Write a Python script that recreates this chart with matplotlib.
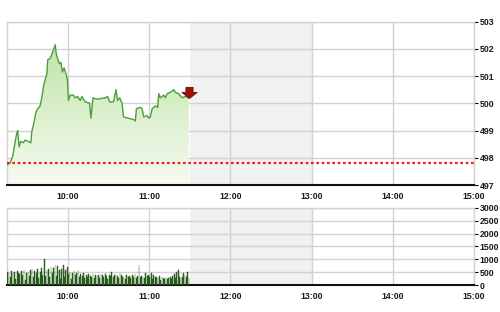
import numpy as np
import matplotlib
matplotlib.use("Agg")
import matplotlib.pyplot as plt
from matplotlib.path import Path
from matplotlib.colors import LinearSegmentedColormap

# Session: 9:15 open, 15:00 close; lunch break 11:30-13:00
OPEN_H = 9.25
CLOSE_H = 15.0
BREAK = (11.5, 13.0)

# Intraday index: minutes after the 9:15 open and index level
price_min = [0.0, 2.2, 4.2, 5.9, 7.2, 7.9, 8.9, 10.1, 12.1, 13.3, 15.8, 17.6, 18.3,
             19.5, 21.3, 22.0, 24.4, 25.7, 26.9, 28.1, 29.4, 30.1, 31.9, 33.1, 34.3,
             35.6, 36.3, 37.3, 38.7, 39.8, 41.0, 42.2, 43.5, 44.7, 45.4, 46.7, 49.1,
             50.4, 52.1, 54.1, 55.3, 57.8, 61.0, 62.0, 63.5, 66.4, 68.9, 72.6, 74.3,
             75.8, 78.7, 80.5, 81.7, 83.2, 85.0, 86.1, 89.9, 93.6, 94.8, 95.6, 98.5,
             99.8, 101.0, 103.5, 104.7, 105.9, 107.2, 109.6, 111.3, 112.1, 113.3,
             115.8, 117.0, 118.3, 120.7, 123.2, 124.4, 126.9, 129.4, 131.8, 134.3]
price_val = [497.75, 497.8, 498.05, 498.55, 498.9, 499.0, 498.4, 498.6, 498.55, 498.65,
             498.6, 498.55, 498.95, 499.2, 499.65, 499.75, 499.9, 500.2, 500.6, 500.85,
             501.05, 501.6, 501.65, 501.8, 501.95, 502.15, 501.85, 501.65, 501.45, 501.5,
             501.15, 501.3, 501.1, 500.85, 500.1, 500.3, 500.3, 500.2, 500.25, 500.1,
             500.25, 500.05, 500.0, 499.45, 500.2, 500.15, 500.17, 500.2, 500.25, 500.05,
             500.05, 500.5, 500.1, 500.2, 500.0, 499.5, 499.45, 499.4, 499.35, 499.8,
             499.85, 499.8, 499.5, 499.55, 499.45, 499.5, 499.8, 499.9, 499.85, 500.35,
             500.2, 500.3, 500.2, 500.35, 500.4, 500.5, 500.4, 500.35, 500.2, 500.25, 500.2]
prev_close = 497.82

# Per-minute volume, 9:15 - 11:30
volume = [520, 480, 300, 560, 450, 500, 250, 530, 470, 420,
          550, 380, 600, 200, 480, 520, 350, 570, 610, 300,
          560, 450, 620, 280, 500, 680, 400, 1010, 350, 580,
          620, 300, 700, 480, 650, 760, 350, 720, 580, 250,
          640, 780, 300, 600, 700, 420, 520, 250, 480, 560,
          380, 450, 600, 300, 420, 350, 480, 280, 400, 330,
          420, 360, 300, 440, 280, 380, 350, 400, 260, 420,
          380, 300, 420, 340, 250, 400, 360, 520, 300, 380,
          420, 350, 280, 460, 380, 300, 360, 250, 400, 320,
          350, 280, 380, 300, 420, 260, 350, 780, 300, 360,
          330, 280, 480, 350, 400, 300, 460, 250, 380, 320,
          300, 260, 350, 200, 320, 280, 240, 300, 220, 260,
          300, 240, 350, 420, 280, 500, 590, 320, 260, 300,
          450, 400, 300, 520, 260]

hour_ticks = [10, 11, 12, 13, 14, 15]
hour_labels = ["10:00", "11:00", "12:00", "13:00", "14:00", "15:00"]
price_ticks = [497, 498, 499, 500, 501, 502, 503]
volume_ticks = [0, 500, 1000, 1500, 2000, 2500, 3000]

plt.rcParams["font.family"] = ["Liberation Sans", "DejaVu Sans"]

t_price = OPEN_H + np.array(price_min) / 60.0
p = np.array(price_val)
t_vol = OPEN_H + (np.arange(len(volume)) + 0.5) / 60.0

fig = plt.figure(figsize=(5.0, 3.12), dpi=100)
ax1 = fig.add_axes([0.014, 0.407, 0.934, 0.524])
ax2 = fig.add_axes([0.014, 0.0865, 0.934, 0.2475])

GRID = "#d2d2d2"


def style_axes(ax, ymin, ymax, yticks):
    ax.set_xlim(OPEN_H, CLOSE_H)
    ax.set_ylim(ymin, ymax)
    ax.axvspan(BREAK[0], BREAK[1], color="#f1f1f1", zorder=0, lw=0)
    ax.set_xticks(hour_ticks)
    ax.set_xticklabels(hour_labels)
    ax.set_yticks(yticks)
    ax.yaxis.tick_right()
    ax.grid(True, color=GRID, lw=1.0, zorder=0.5)
    ax.set_axisbelow(True)
    ax.tick_params(axis="x", length=0, pad=5, labelsize=6.3, colors="black")
    ax.tick_params(axis="y", length=3, width=0.8, pad=1, labelsize=6.3,
                   colors="black", direction="out")
    for lab in ax.get_xticklabels() + ax.get_yticklabels():
        lab.set_fontweight("bold")
        lab.set_color("#1a1a1a")
    for s in ("left", "top", "right"):
        ax.spines[s].set_color(GRID)
        ax.spines[s].set_linewidth(1.0)
    ax.spines["bottom"].set_color("#111111")
    ax.spines["bottom"].set_linewidth(1.5)


style_axes(ax1, 497, 503, price_ticks)
style_axes(ax2, 0, 3000, volume_ticks)

# Price area with vertical green gradient
poly = ax1.fill_between(t_price, p, 497, facecolor="none", edgecolor="none")
cmap = LinearSegmentedColormap.from_list("g", ["#f6fbf2", "#bfe4a6"])
grad = np.linspace(0, 1, 256).reshape(-1, 1)
im = ax1.imshow(grad, cmap=cmap, origin="lower", aspect="auto",
                extent=[t_price[0], t_price[-1], 497, 502.3], zorder=1)
im.set_clip_path(poly.get_paths()[0], transform=ax1.transData)
ax1.plot(t_price, p, color="#4c9f3a", lw=1.0, zorder=3)

# Previous close
ax1.axhline(prev_close, color="#ff1a1a", lw=1.6, ls=(0, (1.2, 1.2)), zorder=4)

# Latest-move arrow (tip sits on the last print)
arrow = Path([(0, 0), (-7.5, 6), (-3.5, 6), (-3.5, 11), (3.5, 11),
              (3.5, 6), (7.5, 6), (0, 0)],
             [Path.MOVETO] + [Path.LINETO] * 6 + [Path.CLOSEPOLY])
ax1.plot([t_price[-1]], [p[-1]], marker=arrow, ms=16, color="#a10f0b",
         mec="#6a0704", mew=0.6, zorder=5)

ax1.set_xlim(OPEN_H, CLOSE_H)
ax1.set_ylim(497, 503)

# Volume bars
ax2.bar(t_vol, volume, width=0.6 / 60.0, color="#2e6b20", edgecolor="#1f4d15",
        lw=0.3, zorder=3)

fig.savefig("out.png", dpi=100, facecolor="white")
